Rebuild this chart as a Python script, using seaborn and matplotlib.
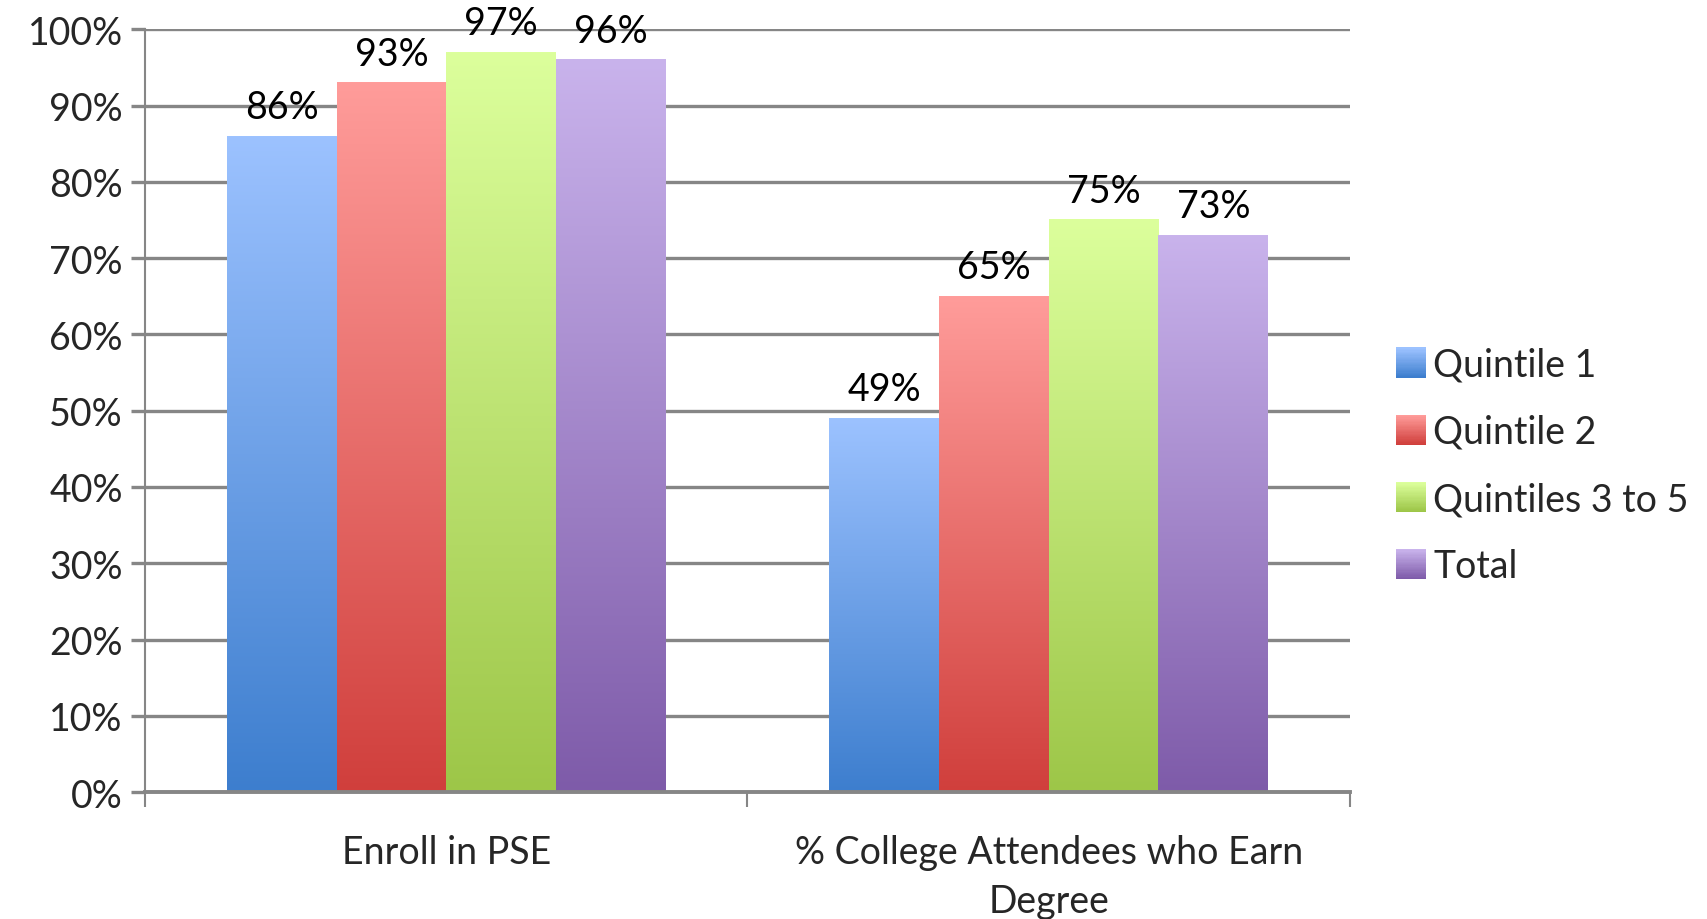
import numpy as np
import pandas as pd
import matplotlib
matplotlib.use("Agg")
import matplotlib.pyplot as plt
import seaborn as sns
from matplotlib.patches import Rectangle
from matplotlib.legend_handler import HandlerBase
from matplotlib.colors import to_rgb

# Data
categories = ["Enroll in PSE", "% College Attendees who Earn\nDegree"]
groups = ["Quintile 1", "Quintile 2", "Quintiles 3 to 5", "Total"]
quintile1 = [86, 49]
quintile2 = [93, 65]
quintiles3to5 = [97, 75]
total = [96, 73]
y_ticks = [0, 10, 20, 30, 40, 50, 60, 70, 80, 90, 100]

# Gradient fills (top colour, bottom colour) per series
top_colors = ["#9CC2FF", "#FF9C9A", "#DCFF9C", "#C9B3EC"]
bottom_colors = ["#3D7ECE", "#D03F3C", "#9DC648", "#7E5BA9"]

series = [quintile1, quintile2, quintiles3to5, total]
df = pd.DataFrame({
    "category": [c for _ in groups for c in categories],
    "group": [g for g in groups for _ in categories],
    "value": [v for s in series for v in s],
})

sns.set_theme(style="white")
plt.rcParams["font.family"] = ["Lato", "DejaVu Sans"]
FS = 27
GRID = "#868686"

fig = plt.figure(figsize=(17.07, 9.20), dpi=100)
ax = fig.add_axes([0.0849, 0.138, 0.7060, 0.829])

sns.barplot(data=df, x="category", y="value", hue="group", order=categories,
            hue_order=groups, palette=bottom_colors, width=0.728, dodge=True,
            saturation=1, legend=False, ax=ax, zorder=2)


def gradient(c_top, c_bot, n=256):
    t = np.linspace(0, 1, n)[:, None]
    a, b = np.array(to_rgb(c_top)), np.array(to_rgb(c_bot))
    return (a * (1 - t) + b * t)[:, None, :].reshape(n, 1, 3)


# Replace flat fills with vertical gradients spanning each bar
for i, cont in enumerate(ax.containers):
    img = gradient(top_colors[i], bottom_colors[i])
    for p in cont.patches:
        x0, y0 = p.get_x(), p.get_y()
        w, h = p.get_width(), p.get_height()
        ax.imshow(img, extent=[x0, x0 + w, y0, y0 + h], aspect="auto",
                  origin="upper", zorder=2, interpolation="bilinear")
        p.set_facecolor("none")
        p.set_edgecolor("none")
    ax.bar_label(cont, labels=[f"{v:.0f}%" for v in cont.datavalues],
                 padding=8, fontsize=FS, color="black", zorder=4)

ax.set_xlim(-0.5, 1.5)
ax.set_ylim(0, 100)
ax.set_yticks(y_ticks)
ax.set_yticklabels([f"{t}%" for t in y_ticks], fontsize=FS)
ax.set_xticks([0, 1])
ax.set_xticklabels(categories, fontsize=FS, linespacing=1.45)
ax.set_xticks([-0.5, 0.5, 1.5], minor=True)
ax.tick_params(axis="x", which="major", length=0, pad=30)
ax.tick_params(axis="x", which="minor", length=11, width=1.5, color=GRID,
               bottom=True)
ax.tick_params(axis="y", which="major", length=10, width=2.4, color=GRID,
               left=True, pad=6)
ax.set_xlabel("")
ax.set_ylabel("")

ax.yaxis.grid(True, color=GRID, linewidth=2.4, zorder=0)
ax.set_axisbelow(True)
for s in ["top", "right"]:
    ax.spines[s].set_visible(False)
ax.spines["left"].set_color(GRID)
ax.spines["left"].set_linewidth(1.5)
ax.spines["bottom"].set_color(GRID)
ax.spines["bottom"].set_linewidth(2.8)


class GradientSwatch(HandlerBase):
    def __init__(self, c_top, c_bot, n=24):
        super().__init__()
        self.c_top, self.c_bot, self.n = c_top, c_bot, n

    def create_artists(self, legend, orig_handle, xdescent, ydescent,
                       width, height, fontsize, trans):
        a, b = np.array(to_rgb(self.c_top)), np.array(to_rgb(self.c_bot))
        side = min(width, height)
        x0 = -xdescent
        y0 = -ydescent + (height - side) / 2
        arts = []
        for k in range(self.n):
            t = k / (self.n - 1)
            col = a * t + b * (1 - t)
            arts.append(Rectangle((x0, y0 + side * k / self.n), side,
                                  side / self.n + 0.3, facecolor=col,
                                  edgecolor="none", transform=trans))
        return arts


handles = [Rectangle((0, 0), 1, 1, label=g) for g in groups]
hmap = {h: GradientSwatch(top_colors[i], bottom_colors[i])
        for i, h in enumerate(handles)}
fig.legend(handles=handles, labels=groups, handler_map=hmap,
           loc="center left", bbox_to_anchor=(0.809, 0.493), frameon=False,
           fontsize=FS, handlelength=0.85, handleheight=0.85,
           handletextpad=0.15, labelspacing=0.83, borderaxespad=0)

fig.savefig("out.png", dpi=100, facecolor="white")
